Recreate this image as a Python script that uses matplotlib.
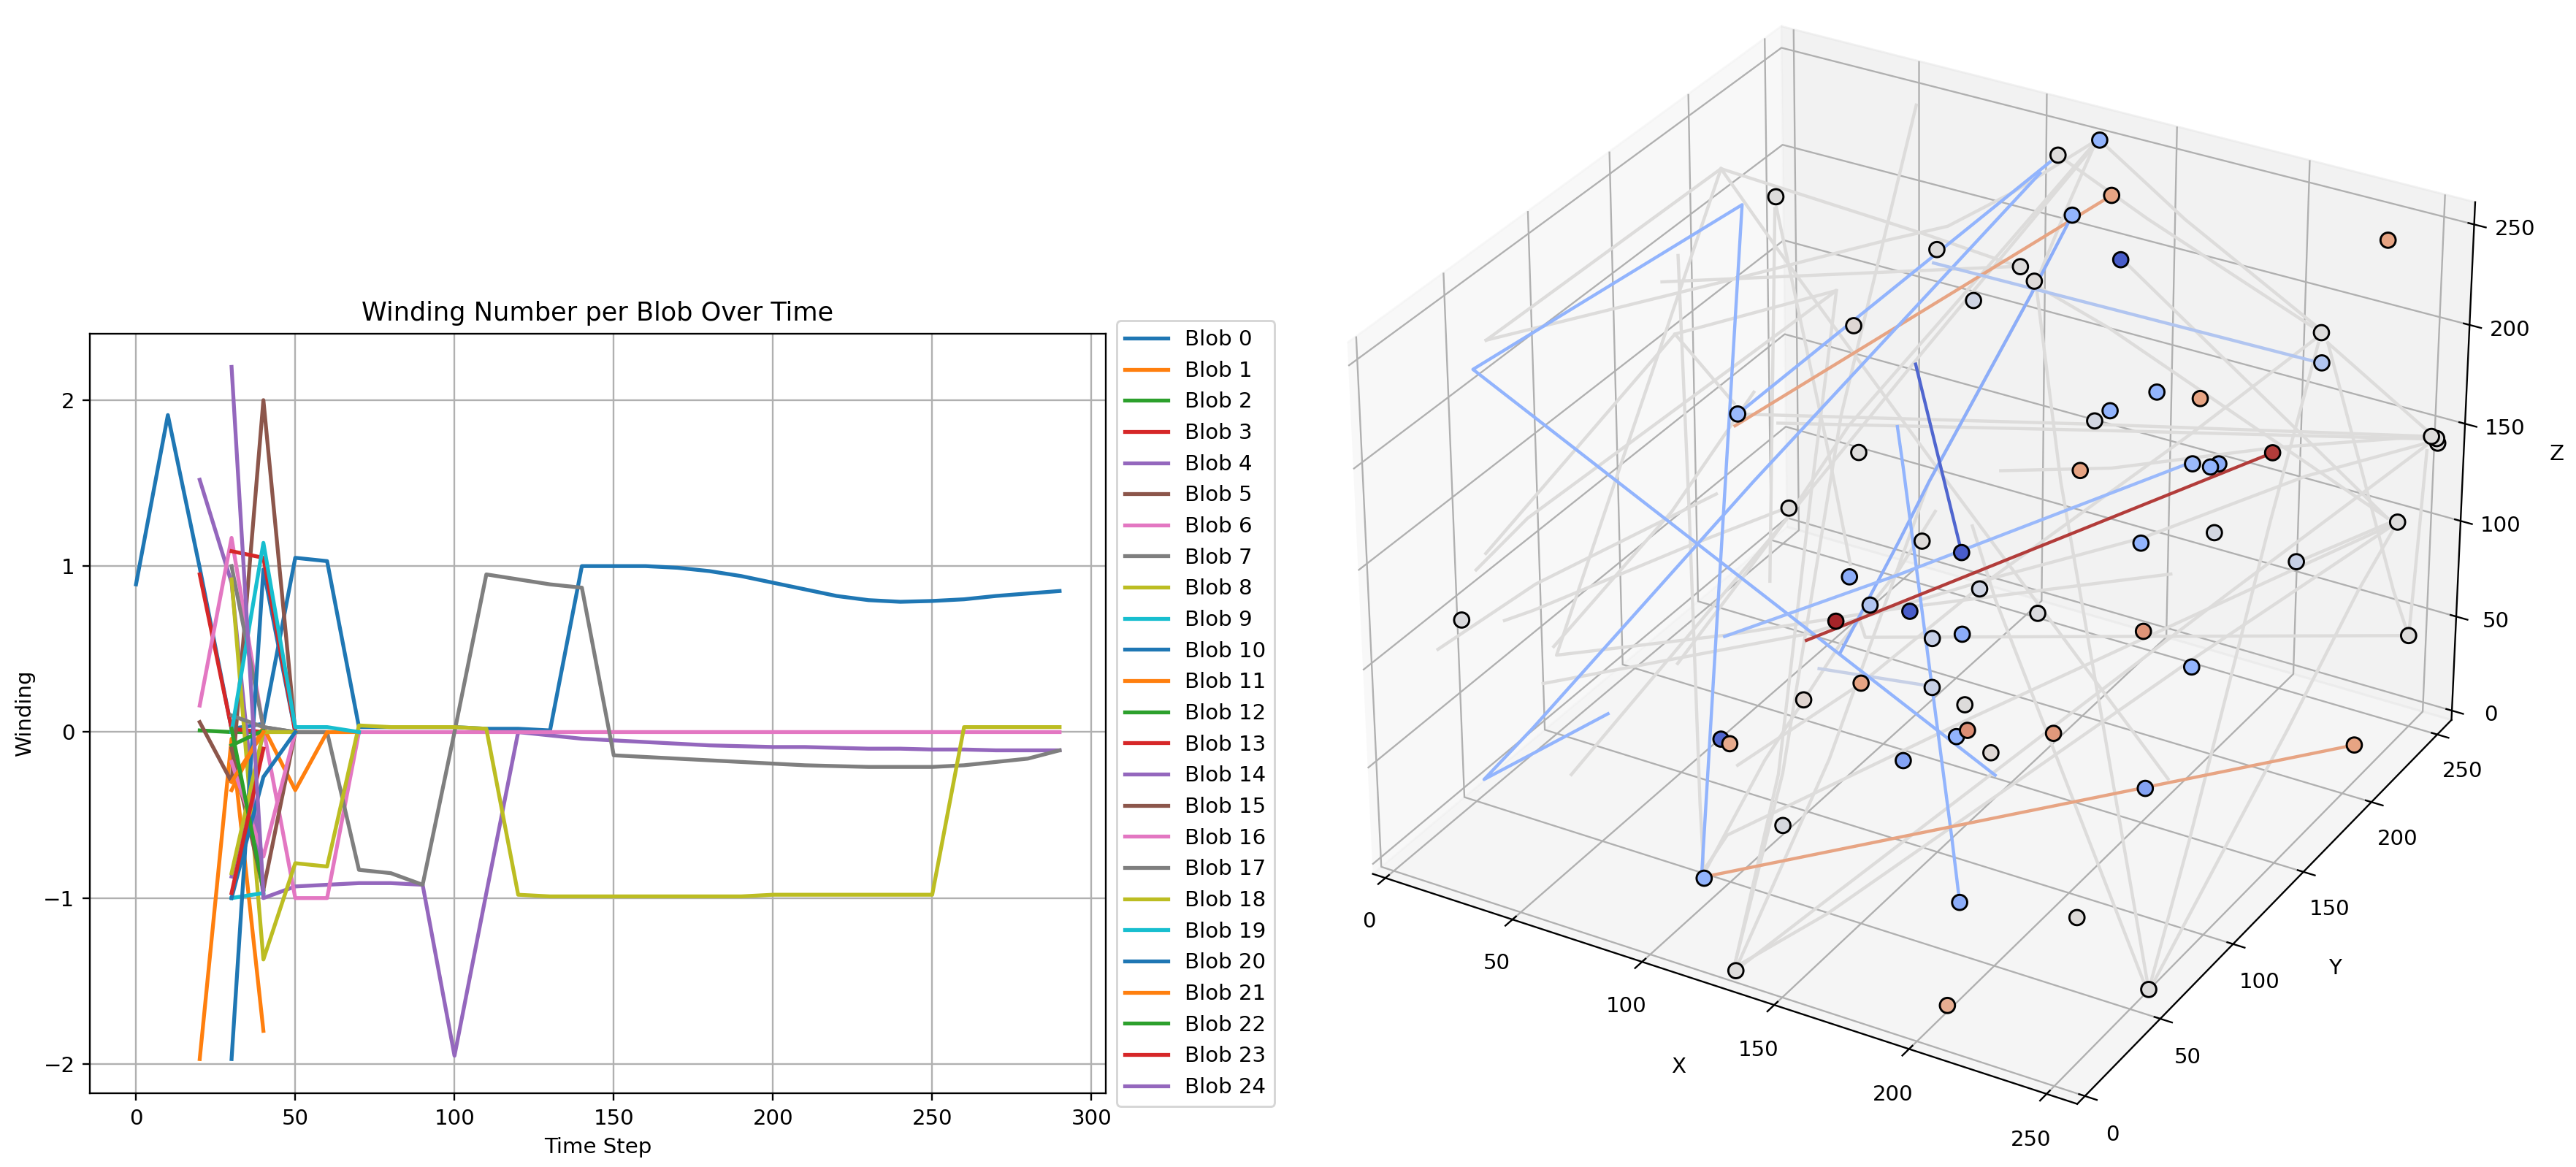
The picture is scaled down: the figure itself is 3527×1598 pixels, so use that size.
import numpy as np
import matplotlib
matplotlib.use('Agg')
import matplotlib.pyplot as plt
from matplotlib.colors import LinearSegmentedColormap, Normalize

DPI = 211

# winding per blob, sampled every 10 time steps
blob_start = [0, 20, 20, 20, 20, 20, 20, 30, 30, 30, 30, 30, 30, 30, 30, 30, 30, 30, 30, 30, 30, 30, 30, 30, 30]
blob_0 = [0.89, 1.91, 0.99, 0.02, 0.05, 1.05, 1.03, 0.03, 0.03, 0.03, 0.03, 0.02, 0.02, 0.01, 1.0, 1.0, 1.0, 0.99,
          0.97, 0.94, 0.90, 0.86, 0.82, 0.795, 0.785, 0.79, 0.80, 0.82, 0.835, 0.85]
blob_1 = [-1.97, -0.04, -1.8]
blob_2 = [0.01, 0.0, 0.0]
blob_3 = [0.95, 0.02, 0.0]
blob_4 = [1.52, 0.9, -1.0, -0.93, -0.92, -0.91, -0.91, -0.92, -1.95, -0.97, 0.0, -0.02, -0.04, -0.05, -0.06, -0.07,
          -0.08, -0.085, -0.09, -0.09, -0.095, -0.10, -0.10, -0.105, -0.105, -0.11, -0.11, -0.11]
blob_5 = [0.06, -0.3, 2.0, 0.0, 0.0]
blob_6 = [0.16, 1.17, 0.02, -1.0, -1.0, 0.0, 0.0, 0.0, 0.0, 0.0, 0.0, 0.0, 0.0, 0.0, 0.0, 0.0, 0.0, 0.0, 0.0, 0.0,
          0.0, 0.0, 0.0, 0.0, 0.0, 0.0, 0.0, 0.0]
blob_7 = [1.0, 0.03, 0.0, 0.0, -0.83, -0.85, -0.92, 0.0, 0.95, 0.92, 0.89, 0.87, -0.14, -0.15, -0.16, -0.17, -0.18,
          -0.19, -0.20, -0.205, -0.21, -0.21, -0.21, -0.20, -0.18, -0.16, -0.11]
blob_8 = [0.92, -1.37, -0.79, -0.81, 0.04, 0.03, 0.03, 0.03, 0.02, -0.98, -0.99, -0.99, -0.99, -0.99, -0.99, -0.99,
          -0.99, -0.98, -0.98, -0.98, -0.98, -0.98, -0.98, 0.03, 0.03, 0.03, 0.03]
blob_9 = [-1.0, -0.97]
blob_10 = [-1.97, 0.98, 0.0]
blob_11 = [-0.35, 0.03, -0.35, 0.0, 0.0]
blob_12 = [-0.08, 0.01]
blob_13 = [1.09, 1.05, 0.0]
blob_14 = [-0.87, 0.0]
blob_15 = [-0.1, -0.95, 0.0]
blob_16 = [-0.18, -0.75, 0.0]
blob_17 = [0.1, 0.03, 0.0]
blob_18 = [-0.85, 0.0, 0.0]
blob_19 = [0.0, 1.14, 0.03, 0.03, 0.0]
blob_20 = [-1.0, -0.27, 0.0]
blob_21 = [-0.3, 0.0]
blob_22 = [0.02, -0.95]
blob_23 = [-0.97, -0.1]
blob_24 = [2.2, -0.97]
blobs = [blob_0, blob_1, blob_2, blob_3, blob_4, blob_5, blob_6, blob_7, blob_8, blob_9, blob_10, blob_11, blob_12,
         blob_13, blob_14, blob_15, blob_16, blob_17, blob_18, blob_19, blob_20, blob_21, blob_22, blob_23, blob_24]

# final blob positions and winding
pos_x = [126, 115, 140, 130, 28, 91, 154, 239, 122, 129, 112, 75, 232, 233, 188, 203, 175, 61, 172, 254, 255, 255,
         224, 209, 212, 214, 175, 98, 78, 248, 213, 199, 128, 143, 229, 106, 151, 118, 109, 132, 16, 174, 200, 144,
         153, 251, 213, 128, 152, 112, 166, 171, 168, 199, 91, 95, 182, 155, 249, 225, 126, 108, 195, 234, 132, 254,
         206]
pos_y = [251, 242, 234, 225, 202, 202, 215, 242, 204, 201, 190, 174, 209, 208, 178, 180, 170, 122, 165, 250, 252,
         253, 192, 164, 171, 173, 150, 138, 126, 239, 173, 148, 128, 128, 202, 118, 126, 111, 104, 113, 22, 124, 149,
         107, 111, 245, 159, 88, 93, 78, 90, 83, 81, 90, 60, 59, 79, 69, 210, 105, 41, 21, 36, 43, 1, 55, 9]
pos_z = [252, 246, 239, 231, 219, 214, 223, 246, 215, 212, 203, 187, 218, 204, 192, 193, 183, 170, 180, 148, 146, 143,
         166, 173, 168, 169, 166, 154, 126, 109, 134, 140, 127, 127, 106, 107, 113, 102, 95, 103, 115, 111, 95, 98,
         101, 47, 75, 82, 86, 74, 85, 79, 76, 84, 58, 58, 75, 67, 13, 56, 42, 22, 36, 40, 0, 3, 9]
pos_w = [-1, 0, 1, -1, 0, 0, -2, 1, 0, 0.05, -0.2, 0.1, 0, -0.6, -1, 1, -1, -0.9, -0.15, 0, 0, 0, 1.9, -0.9, -1, -1.1,
         1, 0, 0, 0, -0.15, -1, 0.05, -2, -0.3, -1.1, -0.2, -0.6, 2.1, -2, -0.05, -0.05, 1.15, -0.3, -1.1, 0, -1, 1,
         -0.3, 0.15, 0.03, 1.2, -1, 1.1, -1.9, 0.9, 0.1, -1.2, 1, -1.2, -0.1, -1, -1.1, 0.05, 0, 0, 0.85]

# trails of blobs with winding near zero
gray_trails = [
    [(14, 45, 238), (38, 161, 206), (71, 201, 212), (90, 211, 220), (106, 227, 233), (124, 248, 251)],
    [(28, 129, 220), (119, 204, 214)],
    [(14, 45, 238), (15, 188, 237), (85, 207, 216), (119, 204, 215)],
    [(15, 188, 237), (38, 187, 204), (131, 138, 153), (173, 126, 114), (227, 117, 53)],
    [(15, 188, 237), (46, 70, 165), (34, 50, 85), (75, 90, 84), (128, 113, 103), (205, 158, 120)],
    [(25, 144, 223), (59, 94, 135), (95, 40, 41), (106, 24, 24)],
    [(59, 123, 174), (39, 119, 204), (21, 30, 145)],
    [(39, 119, 204), (63, 183, 195), (53, 136, 184), (29, 43, 157), (19, 27, 138)],
    [(63, 183, 195), (86, 128, 141), (116, 55, 54), (131, 2, 2)],
    [(57, 247, 249), (86, 147, 163), (117, 56, 54), (131, 2, 2)],
    [(125, 249, 251), (110, 198, 210), (90, 145, 160), (77, 126, 120), (64, 77, 74)],
    [(125, 249, 250), (103, 171, 185), (77, 126, 120), (47, 37, 38)],
    [(125, 249, 250), (127, 227, 233), (130, 197, 208), (126, 136, 151), (130, 64, 61), (132, 3, 3)],
    [(126, 251, 252), (169, 232, 238), (229, 211, 219)],
    [(115, 242, 246), (156, 230, 235), (228, 210, 219)],
    [(232, 207, 214), (224, 192, 132), (239, 110, 32), (254, 56, 5)],
    [(234, 210, 213), (248, 238, 74), (251, 245, 47)],
    [(234, 210, 213), (253, 249, 151)],
    [(231, 207, 216), (206, 169, 184), (151, 127, 114), (128, 87, 82), (101, 54, 53)],
    [(252, 246, 150), (170, 163, 179), (62, 124, 169)],
    [(252, 247, 148), (176, 163, 178), (68, 136, 159)],
    [(253, 248, 149), (225, 192, 169), (185, 153, 169), (148, 145, 159)],
    [(253, 249, 145), (230, 205, 148), (199, 149, 142), (154, 128, 118), (102, 98, 90), (31, 46, 72)],
    [(253, 249, 144), (217, 179, 102), (199, 93, 87), (150, 24, 24), (134, 3, 3)],
    [(253, 249, 141), (252, 245, 70), (251, 245, 47)],
    [(155, 215, 223), (246, 235, 113)],
    [(130, 200, 211), (162, 193, 205), (246, 235, 113)],
    [(248, 239, 109), (225, 192, 102), (170, 87, 82), (109, 34, 35), (106, 24, 23)],
    [(248, 239, 109), (212, 161, 77), (208, 105, 82), (154, 22, 23), (133, 2, 3)],
    [(248, 239, 109), (241, 225, 80), (237, 183, 35), (254, 58, 4)],
    [(230, 201, 107), (246, 235, 110)],
    [(131, 199, 210), (170, 146, 161), (210, 104, 80), (253, 56, 5)],
    [(147, 128, 142), (158, 124, 112), (200, 87, 81), (253, 54, 6)],
    [(117, 106, 97), (122, 101, 94), (251, 245, 47)],
    [(64, 103, 143), (30, 45, 123), (11, 15, 103)],
    [(60, 134, 173), (56, 88, 141), (33, 50, 89)],
    [(77, 128, 125), (59, 94, 121), (30, 43, 111), (24, 35, 109)],
    [(30, 198, 216), (80, 110, 100)],
    [(30, 199, 216), (84, 140, 155), (104, 122, 110)],
    [(107, 24, 24), (109, 58, 56), (115, 97, 91), (121, 125, 112), (133, 128, 144)],
]

# trails of blobs with non-zero winding
color_trails = [
    [(112, 88, 83), (149, 93, 86)],
    [(140, 234, 239), (63, 117, 168)],
    [(107, 21, 22), (25, 185, 224), (18, 31, 234), (187, 73, 70)],
    [(113, 240, 243), (61, 122, 170)],
    [(112, 235, 240), (71, 115, 144), (29, 42, 51), (19, 27, 31), (49, 57, 56)],
    [(130, 225, 231), (130, 197, 208), (126, 136, 151), (119, 128, 123), (116, 95, 88)],
    [(107, 148, 164), (115, 138, 153), (183, 52, 51), (195, 36, 36)],
    [(209, 164, 174), (122, 123, 111), (75, 89, 84)],
    [(233, 209, 203), (92, 198, 210)],
    [(143, 128, 127), (103, 167, 182)],
    [(224, 192, 166), (103, 95, 89)],
    [(249, 210, 13), (107, 21, 22)],
]
color_w = [-0.3, 1, -1, -1, -1, -1.1, -1, -0.9, -0.6, -1.9, 1.9, 1]

W, H = 3527, 1598
fig = plt.figure(figsize=(W / DPI, H / DPI), dpi=DPI)

ax = fig.add_axes([123 / W, 1 - 1497 / H, (1514 - 123) / W, (1497 - 457) / H])
for i, vals in enumerate(blobs):
    t = blob_start[i] + 10 * np.arange(len(vals))
    ax.plot(t, vals, lw=1.8, label=f'Blob {i}')
ax.set_xlim(-14.5, 304.5)
ax.set_ylim(-2.176, 2.40)
ax.set_xlabel('Time Step')
ax.set_ylabel('Winding')
ax.set_title('Winding Number per Blob Over Time')
ax.grid(True)
ax.legend(loc='center left', bbox_to_anchor=(1, 0.5))

S = 1717
ax3 = fig.add_axes([1750 / W, -22 / H, S / W, S / H], projection='3d', computed_zorder=False)
ax3.set_xlim(-5, 261)
ax3.set_ylim(-5, 261)
ax3.set_zlim(-5, 261)
ax3.set_xticks(range(0, 251, 50))
ax3.set_yticks(range(0, 251, 50))
ax3.set_zticks(range(0, 251, 50))
ax3.set_xlabel('X', labelpad=6)
ax3.set_ylabel('Y', labelpad=6)
ax3.set_zlabel('Z', labelpad=6)

# coolwarm with the muted warm side seen in the picture
cmap = LinearSegmentedColormap.from_list(
    'muted_coolwarm', [(0, '#3b4cc0'), (0.273, '#93b5fe'), (0.5, '#dddcdc'), (0.727, '#e8a584'), (1, '#a01a22')])
norm = Normalize(-2.2, 2.2)
for trail in gray_trails:
    q = np.array(trail)
    ax3.plot(q[:, 0], q[:, 1], q[:, 2], color=cmap(norm(0)), lw=1.5, zorder=1)
for trail, w in zip(color_trails, color_w):
    q = np.array(trail)
    ax3.plot(q[:, 0], q[:, 1], q[:, 2], color=cmap(norm(w)), lw=1.5, zorder=1.5)
ax3.scatter(pos_x, pos_y, pos_z, c=pos_w, cmap=cmap, norm=norm, s=50, edgecolors='k', linewidths=1,
            depthshade=False, alpha=1, zorder=2)

fig.savefig('out.png', dpi=DPI)
